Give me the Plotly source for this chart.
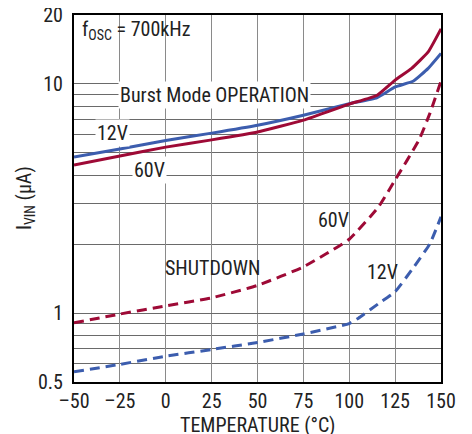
import plotly.graph_objects as go

# Data
temp_b12 = [-50, -25, 0, 25, 50, 75, 100, 115, 125, 135, 143, 150]
burst_12v = [4.8, 5.2, 5.67, 6.1, 6.6, 7.3, 8.2, 8.7, 9.7, 10.3, 11.7, 13.6]

temp_b60 = [-50, -25, 0, 25, 50, 75, 100, 115, 125, 134, 143, 150]
burst_60v = [4.43, 4.85, 5.3, 5.7, 6.17, 6.95, 8.17, 8.9, 10.4, 11.7, 13.8, 17.4]

temp_s60 = [-50, -25, 0, 25, 50, 75, 100, 116, 125, 138, 144, 150]
shutdown_60v = [0.906, 0.99, 1.075, 1.165, 1.32, 1.59, 2.1, 2.91, 3.81, 5.69, 7.46, 10.3]

temp_s12 = [-50, -25, 0, 25, 50, 75, 100, 105, 116, 125, 134, 144, 150]
shutdown_12v = [0.554, 0.597, 0.648, 0.693, 0.744, 0.81, 0.90, 0.95, 1.10, 1.24, 1.54, 2.01, 2.63]

x_ticks = [-50, -25, 0, 25, 50, 75, 100, 125, 150]
x_ticktext = ["–50", "–25", "0", "25", "50", "75", "100", "125", "150"]
y_ticks = [0.5, 1, 10, 20]
y_ticktext = ["0.5", "1", "10", "20"]
y_minor_grid = [0.6, 0.7, 0.8, 0.9, 2, 3, 4, 5, 6, 7, 8, 9]

x_title = "TEMPERATURE (°C)"
y_title = "I<sub>VIN</sub> (µA)"

BLUE = "#3c5dae"
RED = "#9e0a36"
FONT = "Liberation Sans Narrow, Roboto Condensed, Arial Narrow, Liberation Sans, sans-serif"
FS = 20

# page body has an 8px margin; compensate so the plot lands where the reference has it
OFF = 8
FIG_W, FIG_H = 472 - OFF, 434 - OFF
L, R, T, B = 74, 441, 15, 382  # plot box in window pixels
W, H = R - L, B - T

fig = go.Figure()
line_kw = dict(shape="spline", smoothing=0.4, width=3)
fig.add_trace(go.Scatter(x=temp_b12, y=burst_12v, mode="lines",
                         line=dict(color=BLUE, **line_kw)))
fig.add_trace(go.Scatter(x=temp_b60, y=burst_60v, mode="lines",
                         line=dict(color=RED, **line_kw)))
fig.add_trace(go.Scatter(x=temp_s60, y=shutdown_60v, mode="lines",
                         line=dict(color=RED, dash="10px,6px", **line_kw)))
fig.add_trace(go.Scatter(x=temp_s12, y=shutdown_12v, mode="lines",
                         line=dict(color=BLUE, dash="10px,6px", **line_kw)))


def px(xp, yp):
    return (xp - L) / W, (B - yp) / H


labels = [
    ("f<sub>OSC</sub> = 700kHz", 80, 30, "left", None, 0),
    ("Burst Mode OPERATION", 214.5, 95, "center", "white", 0),
    ("12V", 112, 133, "center", "white", 0),
    ("60V", 149, 170, "center", "white", 0),
    ("60V", 333, 220, "center", None, 0),
    ("12V", 382, 272, "center", None, 0),
    ("SHUTDOWN", 212, 268, "center", None, 0),
    (x_title, 257.5, 425, "center", None, 0),
    (y_title, 25, 198, "center", None, -90),
]
for text, xp, yp, anchor, bg, ang in labels:
    xx, yy = px(xp, yp)
    fig.add_annotation(x=xx, y=yy, xref="paper", yref="paper", text=text,
                       showarrow=False, xanchor=anchor, yanchor="middle",
                       textangle=ang,
                       font=dict(family=FONT, size=FS, color="#222"),
                       bgcolor=bg if bg else "rgba(0,0,0,0)", borderpad=1)

fig.update_layout(
    width=FIG_W, height=FIG_H,
    margin=dict(l=L - OFF, r=472 - R, t=T - OFF, b=434 - B),
    paper_bgcolor="white", plot_bgcolor="white",
    showlegend=False,
    font=dict(family=FONT, size=FS, color="#222"),
)
fig.update_xaxes(
    range=[-50, 150], tickvals=x_ticks, ticktext=x_ticktext,
    showgrid=True, gridcolor="#8a8a8a", gridwidth=1,
    showline=True, linecolor="black", linewidth=2, mirror=True,
    ticks="inside", ticklen=4, tickcolor="#8a8a8a",
    ticklabelstandoff=0, ticklabeloverflow="allow",
    tickfont=dict(family=FONT, size=FS, color="#222"),
    zeroline=False, automargin=False,
)
fig.update_yaxes(
    type="log", range=[-0.30103, 1.30103], tickvals=y_ticks, ticktext=y_ticktext,
    showgrid=True, gridcolor="#6a6a6a", gridwidth=1,
    minor=dict(tickvals=y_minor_grid, showgrid=True, gridcolor="#6a6a6a",
               gridwidth=1, ticks=""),
    showline=True, linecolor="black", linewidth=2, mirror=True,
    ticklabelstandoff=5, ticklabeloverflow="allow",
    tickfont=dict(family=FONT, size=FS, color="#222"),
    zeroline=False, automargin=False,
)

fig.write_html("out.html")
